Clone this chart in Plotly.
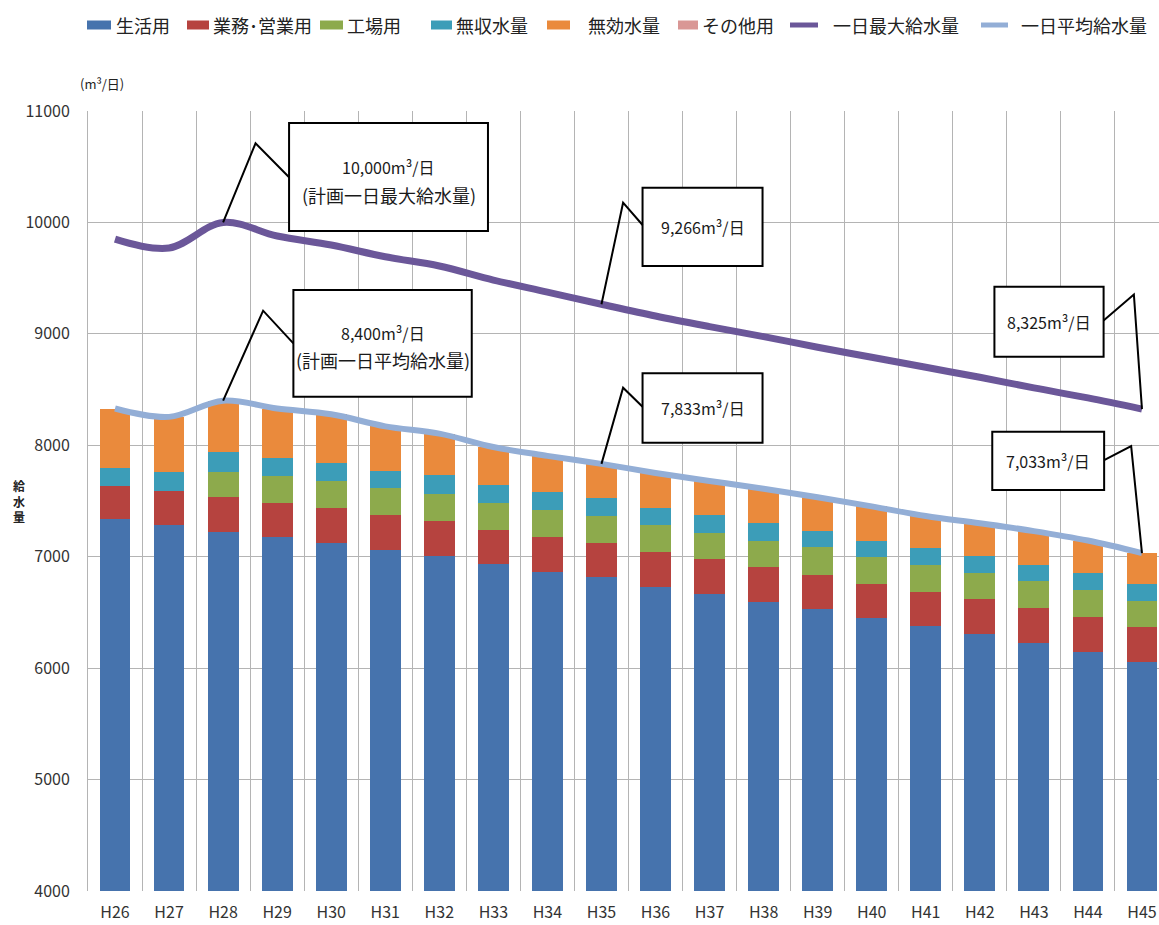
import plotly.graph_objects as go

# 年度
years = ["H26", "H27", "H28", "H29", "H30", "H31", "H32", "H33", "H34", "H35",
         "H36", "H37", "H38", "H39", "H40", "H41", "H42", "H43", "H44", "H45"]

# 用途別水量 (m³/日)
domestic = [7335, 7285, 7224, 7179, 7126, 7060, 7009, 6932, 6866, 6821,
            6731, 6662, 6596, 6528, 6447, 6378, 6306, 6228, 6147, 6058]
business = [300, 308, 309, 300, 314, 314, 314, 308, 314, 305,
            314, 315, 309, 308, 308, 308, 314, 314, 315, 308]
factory = [0, 0, 230, 245, 242, 240, 240, 244, 239, 239,
           240, 239, 239, 248, 245, 240, 237, 240, 239, 239]
non_revenue = [165, 165, 179, 158, 156, 158, 170, 157, 165, 159,
               149, 158, 156, 150, 141, 149, 149, 144, 150, 150]
ineffective = [530, 497, 458, 448, 440, 398, 372, 344, 321, 309,
               318, 306, 310, 299, 311, 290, 294, 304, 294, 278]
other_use = [0] * 20

# 一日最大給水量・一日平均給水量 (m³/日)
max_supply = [9850, 9770, 10000, 9878, 9797, 9692, 9609, 9483, 9375, 9266,
              9160, 9065, 8975, 8880, 8790, 8700, 8610, 8515, 8425, 8325]
avg_supply = [8330, 8255, 8400, 8330, 8278, 8170, 8105, 7985, 7905, 7833,
              7752, 7680, 7610, 7533, 7452, 7365, 7300, 7230, 7145, 7033]

FONT = "Noto Sans CJK JP"
GRID = "#b4b4b4"
W, H = 1159, 925
ML, MR, MT, MB = 88, 0, 111, 34
PW, PH = W - ML - MR, H - MT - MB

bar_series = [
    ("生活用", domestic, "#4673AD"),
    ("業務･営業用", business, "#B6433F"),
    ("工場用", factory, "#8DAA4C"),
    ("無収水量", non_revenue, "#3C9DB8"),
    ("無効水量", ineffective, "#EA8A3C"),
    ("その他用", other_use, "#D99795"),
]
line_series = [
    ("一日最大給水量", max_supply, "#6B5799", 7),
    ("一日平均給水量", avg_supply, "#93AED6", 6),
]

fig = go.Figure()
for name, vals, color in bar_series:
    fig.add_trace(go.Bar(x=years, y=vals, name=name, marker_color=color,
                         marker_line_width=0))
for name, vals, color, width in line_series:
    fig.add_trace(go.Scatter(x=years, y=vals, name=name, mode="lines",
                             line=dict(color=color, width=width, shape="spline")))


def px_x(px):
    return (px - ML) / PW


def px_y(py):
    return (H - MB - py) / PH


shapes = []
annotations = []

# 凡例 (記号の左端, 右端, 文字の開始位置)
legend_row_y = 25
legend_slots = [(87, 111, 114), (187, 209, 211), (320, 343, 345), (431, 452, 454),
                (547, 570, 586), (678, 698, 700), (790, 818, 831), (981, 1008, 1019)]
legend_items = [(n, c, "bar") for n, _, c in bar_series] + \
               [(n, c, "line") for n, _, c, _ in line_series]
for (name, color, kind), (s0, s1, tx) in zip(legend_items, legend_slots):
    if kind == "bar":
        shapes.append(dict(type="rect", xref="paper", yref="paper",
                           x0=px_x(s0), x1=px_x(s1),
                           y0=px_y(legend_row_y + 4.5), y1=px_y(legend_row_y - 4.5),
                           fillcolor=color, line=dict(width=0), layer="above"))
    else:
        shapes.append(dict(type="line", xref="paper", yref="paper",
                           x0=px_x(s0), x1=px_x(s1),
                           y0=px_y(legend_row_y), y1=px_y(legend_row_y),
                           line=dict(color=color, width=5), layer="above"))
    annotations.append(dict(x=px_x(tx), y=px_y(legend_row_y), xref="paper", yref="paper",
                            text=name, showarrow=False, xanchor="left", yanchor="middle",
                            font=dict(family=FONT, size=18, color="#222")))

# 吹き出し: 枠, 引出線の折れ点, 対象系列
i28 = years.index("H28")
i35 = years.index("H35")
i45 = years.index("H45")
callouts = [
    dict(box=(3.22, 6.90, 9923, 10892), base=(3.22, 10405), apex=(2.60, 10710),
         pt=(i28, max_supply[i28]),
         lines=[(f"{max_supply[i28]:,}m³/日", 10500, 16), ("(計画一日最大給水量)", 10246, 18)]),
    dict(box=(3.30, 6.60, 8436, 9393), base=(3.30, 8914), apex=(2.74, 9208),
         pt=(i28, avg_supply[i28]),
         lines=[(f"{avg_supply[i28]:,}m³/日", 9005, 16), ("(計画一日平均給水量)", 8765, 18)]),
    dict(box=(9.76, 11.98, 9609, 10311), base=(9.76, 9977), apex=(9.40, 10177),
         pt=(i35, max_supply[i35]),
         lines=[(f"{max_supply[i35]:,}m³/日", 9960, 16)]),
    dict(box=(9.76, 11.98, 8023, 8646), base=(9.76, 8346), apex=(9.40, 8517),
         pt=(i35, avg_supply[i35]),
         lines=[(f"{avg_supply[i35]:,}m³/日", 8335, 16)]),
    dict(box=(16.27, 18.29, 8795, 9423), base=(18.29, 9120), apex=(18.85, 9353),
         pt=(i45, max_supply[i45]),
         lines=[(f"{max_supply[i45]:,}m³/日", 9109, 16)]),
    dict(box=(16.23, 18.30, 7599, 8122), base=(18.30, 7867), apex=(18.80, 7993),
         pt=(i45, avg_supply[i45]),
         lines=[(f"{avg_supply[i45]:,}m³/日", 7860, 16)]),
]

for c in callouts:
    x0, x1, y0, y1 = c["box"]
    shapes.append(dict(type="rect", xref="x", yref="y", x0=x0, x1=x1, y0=y0, y1=y1,
                       fillcolor="white", line=dict(color="black", width=2), layer="above"))
    bx, by = c["base"]
    ax, ay = c["apex"]
    px, py = c["pt"]
    shapes.append(dict(type="path", xref="x", yref="y",
                       path=f"M {bx},{by} L {ax},{ay} L {px},{py}",
                       line=dict(color="black", width=2), layer="above"))
    cx = (x0 + x1) / 2
    for text, ty, size in c["lines"]:
        annotations.append(dict(x=cx, y=ty, xref="x", yref="y", text=text,
                                showarrow=False, xanchor="center", yanchor="middle",
                                font=dict(family=FONT, size=size, color="#1a1a1a")))

# 単位と軸タイトル
annotations.append(dict(x=px_x(102), y=px_y(84), xref="paper", yref="paper", text="(m³/日)",
                        showarrow=False, xanchor="center", yanchor="middle",
                        font=dict(family=FONT, size=13, color="#222")))
annotations.append(dict(x=px_x(19), y=px_y(501), xref="paper", yref="paper",
                        text="<b>給<br>水<br>量</b>", showarrow=False,
                        xanchor="center", yanchor="middle",
                        font=dict(family=FONT, size=12, color="#222")))

fig.update_layout(
    width=W, height=H,
    margin=dict(l=ML, r=MR, t=MT, b=MB),
    paper_bgcolor="white", plot_bgcolor="white",
    barmode="stack", bargap=0.43,
    font=dict(family=FONT, color="#333"),
    shapes=shapes, annotations=annotations,
    showlegend=False,
    xaxis=dict(type="category", range=[-0.5, 19.315], tickson="boundaries",
               showgrid=True, gridcolor=GRID, gridwidth=1, ticks="",
               showline=False, zeroline=False,
               tickfont=dict(family=FONT, size=16, color="#333"),
               ticklabelstandoff=10),
    yaxis=dict(range=[4000, 11000], dtick=1000, tickformat="d",
               showgrid=True, gridcolor=GRID, gridwidth=1,
               showline=True, linecolor=GRID, linewidth=1, zeroline=False, ticks="",
               tickfont=dict(family=FONT, size=16, color="#333"),
               ticklabelstandoff=14),
)

fig.write_html("out.html")
